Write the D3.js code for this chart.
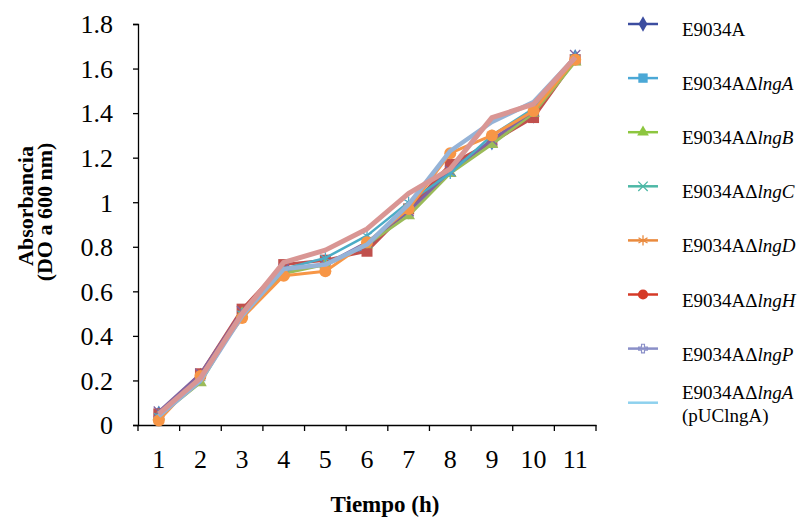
<!DOCTYPE html>
<html>
<head>
<meta charset="utf-8">
<script src="https://cdn.jsdelivr.net/npm/d3@7"></script>
<style>
  body { margin: 0; background: #fff; }
  svg { font-family: "Liberation Serif", "Times New Roman", serif; }
</style>
</head>
<body>
<div id="chart"></div>
<script>
// categories (hours)
var hours = ["1", "2", "3", "4", "5", "6", "7", "8", "9", "10", "11"];
var yTicks = [0, 0.2, 0.4, 0.6, 0.8, 1, 1.2, 1.4, 1.6, 1.8];

// series values
var e9034A   = [0.05, 0.22, 0.50, 0.69, 0.72, 0.80, 0.96, 1.15, 1.27, 1.39, 1.65];
var dLngA    = [0.05, 0.23, 0.52, 0.72, 0.74, 0.78, 0.97, 1.17, 1.27, 1.38, 1.64];
var dLngB    = [0.04, 0.19, 0.50, 0.68, 0.72, 0.81, 0.94, 1.13, 1.26, 1.40, 1.63];
var dLngC    = [0.06, 0.23, 0.51, 0.70, 0.72, 0.82, 0.96, 1.14, 1.28, 1.41, 1.66];
var dLngD    = [0.04, 0.21, 0.50, 0.70, 0.75, 0.85, 1.00, 1.13, 1.30, 1.42, 1.65];
var dLngH    = [0.02, 0.22, 0.48, 0.67, 0.69, 0.82, 0.97, 1.22, 1.30, 1.41, 1.64];
var dLngP    = [0.04, 0.20, 0.49, 0.70, 0.72, 0.81, 0.99, 1.23, 1.36, 1.45, 1.65];
var dLngApUC = [0.05, 0.21, 0.50, 0.73, 0.785, 0.88, 1.04, 1.15, 1.38, 1.44, 1.65];

var seriesNames = ["E9034A", "lngA", "lngB", "lngC", "lngD", "lngH", "lngP", "lngA"];
var seriesValues = [e9034A, dLngA, dLngB, dLngC, dLngD, dLngH, dLngP, dLngApUC];

var width = 797, height = 519;
var margin = { left: 138, right: 201, top: 24, bottom: 94 };

var svg = d3.select("#chart").append("svg")
    .attr("width", width)
    .attr("height", height);

var x = d3.scaleBand()
    .domain(hours)
    .range([margin.left, width - margin.right]);

var y = d3.scaleLinear()
    .domain([0, 1.8])
    .range([height - margin.bottom, margin.top]);

//
// axes
//
var yAxis = svg.append("g")
    .attr("transform", "translate(" + margin.left + ",0)")
    .call(d3.axisLeft(y).tickValues(yTicks).tickSize(5).tickFormat(d3.format("")));
yAxis.select(".domain").attr("stroke", "#000").attr("stroke-width", 1.3);
yAxis.selectAll(".tick line").attr("stroke-width", 1.3);
yAxis.selectAll(".tick text")
    .attr("x", -25)
    .attr("dy", "0.34em")
    .style("font-size", "26px")
    .style("font-family", "Liberation Serif");

var xAxis = svg.append("g")
    .attr("transform", "translate(0," + (height - margin.bottom) + ")")
    .call(d3.axisBottom(x).tickSize(0));
xAxis.select(".domain").attr("stroke", "#000").attr("stroke-width", 1.3);
xAxis.selectAll(".tick text")
    .attr("y", 43)
    .attr("dy", 0)
    .style("font-size", "26px")
    .style("font-family", "Liberation Serif");

// tick marks between categories (Excel style)
var bounds = hours.map(function(h) { return x(h); }).concat([x.range()[1]]);
svg.append("g").selectAll("line")
    .data(bounds)
    .enter()
    .append("line")
    .attr("x1", function(d) { return d; })
    .attr("x2", function(d) { return d; })
    .attr("y1", height - margin.bottom)
    .attr("y2", height - margin.bottom + 6)
    .attr("stroke", "#000")
    .attr("stroke-width", 1.3);

// axis titles
svg.append("g")
    .attr("transform", "translate(33,206) rotate(-90)")
    .append("text")
    .attr("text-anchor", "middle")
    .style("font-weight", "bold")
    .style("font-size", "22px")
    .text("Absorbancia");
svg.append("g")
    .attr("transform", "translate(52,212) rotate(-90)")
    .append("text")
    .attr("text-anchor", "middle")
    .style("font-weight", "bold")
    .style("font-size", "22px")
    .text("(DO a 600 nm)");

svg.append("text")
    .attr("x", 385)
    .attr("y", 512)
    .attr("text-anchor", "middle")
    .style("font-weight", "bold")
    .style("font-size", "23px")
    .text("Tiempo (h)");

//
// series in plot (Excel palette)
//
var plotColors = ["#4F81BD", "#C0504D", "#9BBB59", "#8064A2", "#4BACC6", "#F79646", "#95B3D7", "#D99694"];
var plotWidths = [3, 3, 3, 3, 2.5, 3, 4.5, 5];
var markers = ["diamond", "square", "triangle", "x", "star", "circle", "none", "none"];

var line = d3.line()
    .x(function(d, i) { return x(hours[i]) + x.bandwidth() / 2; })
    .y(function(d) { return y(d); });

function drawMarker(g, type, color, cx, cy, size) {
  var s = size || 1;
  if (type === "diamond") {
    g.append("path").attr("d", d3.symbol(d3.symbolDiamond, 80 * s)())
      .attr("transform", "translate(" + cx + "," + cy + ")").attr("fill", color);
  } else if (type === "square") {
    g.append("rect").attr("x", cx - 5.5 * s).attr("y", cy - 5.5 * s)
      .attr("width", 11 * s).attr("height", 11 * s).attr("fill", color);
  } else if (type === "triangle") {
    g.append("path").attr("d", d3.symbol(d3.symbolTriangle, 70 * s)())
      .attr("transform", "translate(" + cx + "," + cy + ")").attr("fill", color);
  } else if (type === "x") {
    g.append("path").attr("d", d3.symbol(d3.symbolX, 70 * s)())
      .attr("transform", "translate(" + cx + "," + cy + ")")
      .attr("fill", "none").attr("stroke", color).attr("stroke-width", 1.3);
  } else if (type === "star") {
    g.append("path").attr("d", d3.symbol(d3.symbolAsterisk, 90 * s)())
      .attr("transform", "translate(" + cx + "," + cy + ")")
      .attr("fill", "none").attr("stroke", color).attr("stroke-width", 1.3);
  } else if (type === "circle") {
    g.append("circle").attr("cx", cx).attr("cy", cy).attr("r", 6 * s).attr("fill", color);
  } else if (type === "plus") {
    g.append("path").attr("d", d3.symbol(d3.symbolCross, 50 * s)())
      .attr("transform", "translate(" + cx + "," + cy + ")")
      .attr("fill", "none").attr("stroke", color).attr("stroke-width", 1.2);
  }
}

seriesValues.forEach(function(vals, k) {
  var g = svg.append("g");
  g.append("path")
    .datum(vals)
    .attr("fill", "none")
    .attr("stroke", plotColors[k])
    .attr("stroke-width", plotWidths[k])
    .attr("stroke-linejoin", "round")
    .attr("d", line);
  vals.forEach(function(v, i) {
    drawMarker(g, markers[k], plotColors[k], x(hours[i]) + x.bandwidth() / 2, y(v));
  });
});

//
// legend (its own colours, as in the reference)
//
var legendColors = ["#3C4DA0", "#4BA8D6", "#8DC63F", "#4DB8A6", "#EA8A3D", "#D53A27", "#8A8FC8", "#8ED1EE"];
var legendMarkers = ["diamond", "square", "triangle", "x", "star", "circle", "plus", "none"];

var legend = svg.append("g");
seriesNames.forEach(function(name, i) {
  var ly = 24 + i * 54.1;
  legend.append("line")
    .attr("x1", 628).attr("x2", 658)
    .attr("y1", ly).attr("y2", ly)
    .attr("stroke", legendColors[i])
    .attr("stroke-width", 2.5);
  drawMarker(legend, legendMarkers[i], legendColors[i], 643, ly, 0.85);

  var t = legend.append("text")
    .attr("x", 682)
    .attr("y", i === 7 ? ly - 4 : ly + 12)
    .style("font-size", "19px");
  if (i === 0) {
    t.text("E9034A");
  } else {
    t.append("tspan").text("E9034A\u0394");
    t.append("tspan").style("font-style", "italic").text(name);
  }
  if (i === 7) {
    legend.append("text")
      .attr("x", 682)
      .attr("y", ly + 19)
      .style("font-size", "19px")
      .text("(pUClngA)");
  }
});
</script>
</body>
</html>
